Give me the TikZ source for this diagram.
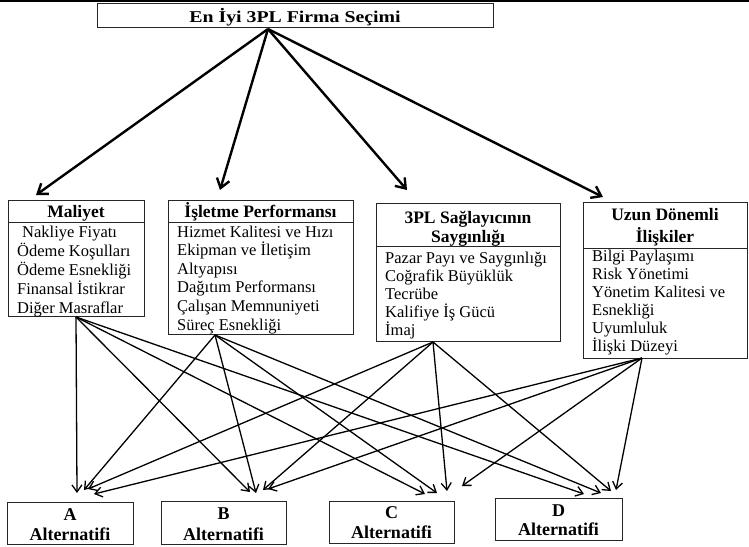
\documentclass[tikz,border=0pt]{standalone}
\usepackage{fontspec}
\setmainfont{Liberation Serif}
\usetikzlibrary{arrows.meta}
\begin{document}
\begin{tikzpicture}[x=1pt,y=-1pt,
  box/.style={draw=black!85, line width=0.9pt, inner sep=0pt, anchor=north west},
  ttl/.style={font=\fontsize{16.5}{18}\selectfont\bfseries, anchor=base, inner sep=0pt},
  hdr/.style={font=\fontsize{17.5}{20}\selectfont\bfseries, anchor=base, inner sep=0pt},
  item/.style={font=\fontsize{16.5}{19}\selectfont, anchor=base west, inner sep=0pt},
  alt/.style={font=\fontsize{18}{20}\selectfont\bfseries, anchor=base, inner sep=0pt},
  toparrow/.style={line width=2.4pt, -{Straight Barb[length=9pt,width=13pt]}},
  link/.style={line width=1.3pt, -{Straight Barb[length=7pt,width=10pt]}},
]
\useasboundingbox (0,0) rectangle (749,546);
\fill (0,0) rectangle (749,2);

% title
\node[box, minimum width=396pt, minimum height=24pt] (title) at (97,3) {};
\node[ttl] (titletext) at (295,22) {\scalebox{1.2}[1]{En İyi 3PL Firma Seçimi}};

% Maliyet
\node[box, minimum width=136pt, minimum height=22pt] (mH) at (8,200) {};
\node[box, minimum width=136pt, minimum height=94pt] (mB) at (8,222) {};
\node[hdr] (mT) at (76,217) {Maliyet};
\node[item] (m1) at (22,237) {Nakliye Fiyatı};
\node[item] (m2) at (17,256) {Ödeme Koşulları};
\node[item] (m3) at (17,275) {Ödeme Esnekliği};
\node[item] (m4) at (17,294) {Finansal İstikrar};
\node[item] (m5) at (17,313) {Diğer Masraflar};

% Isletme
\node[box, minimum width=185pt, minimum height=22pt] (iH) at (168,200) {};
\node[box, minimum width=185pt, minimum height=112pt] (iB) at (168,222) {};
\node[hdr] (iT) at (260.5,217) {İşletme Performansı};
\node[item] (i1) at (177,237) {Hizmet Kalitesi ve Hızı};
\node[item] (i2) at (177,255.6) {Ekipman ve İletişim};
\node[item] (i3) at (177,274.2) {Altyapısı};
\node[item] (i4) at (177,292.8) {Dağıtım Performansı};
\node[item] (i5) at (177,311.4) {Çalışan Memnuniyeti};
\node[item] (i6) at (177,330) {Süreç Esnekliği};

% 3PL
\node[box, minimum width=184pt, minimum height=43pt] (pH) at (376,203) {};
\node[box, minimum width=184pt, minimum height=95pt] (pB) at (376,246) {};
\node[hdr] (pT1) at (468,223) {3PL Sağlayıcının};
\node[hdr] (pT2) at (468,242) {Saygınlığı};
\node[item] (p1) at (385,263) {Pazar Payı ve Saygınlığı};
\node[item] (p2) at (385,281) {Coğrafik Büyüklük};
\node[item] (p3) at (385,299) {Tecrübe};
\node[item] (p4) at (385,317) {Kalifiye İş Gücü};
\node[item] (p5) at (385,335) {İmaj};

% Uzun
\node[box, minimum width=164pt, minimum height=46pt] (uH) at (583,202) {};
\node[box, minimum width=164pt, minimum height=110pt] (uB) at (583,248) {};
\node[hdr] (uT1) at (665,220) {Uzun Dönemli};
\node[hdr] (uT2) at (665,242) {İlişkiler};
\node[item] (u1) at (592,261) {Bilgi Paylaşımı};
\node[item] (u2) at (592,279) {Risk Yönetimi};
\node[item] (u3) at (592,297) {Yönetim Kalitesi ve};
\node[item] (u4) at (592,315) {Esnekliği};
\node[item] (u5) at (592,333) {Uyumluluk};
\node[item] (u6) at (592,351) {İlişki Düzeyi};

% alternatives
\node[box, minimum width=126pt, minimum height=42pt] (A) at (7,502) {};
\node[alt] at (70,520) {A};
\node[alt] at (70,540) {Alternatifi};
\node[box, minimum width=125pt, minimum height=43pt] (B) at (161,501) {};
\node[alt] at (223.5,519) {B};
\node[alt] at (223.5,540) {Alternatifi};
\node[box, minimum width=125pt, minimum height=42pt] (C) at (329,501) {};
\node[alt] at (391.5,518) {C};
\node[alt] at (391.5,538) {Alternatifi};
\node[box, minimum width=127pt, minimum height=42pt] (D) at (495,498) {};
\node[alt] at (558.5,516) {D};
\node[alt] at (558.5,535) {Alternatifi};

% top arrows
\coordinate (tS) at (268,29);
\coordinate (tM) at (36,195);
\coordinate (tI) at (220,190);
\coordinate (tP) at (407,190);
\coordinate (tU) at (603,197);
\foreach \t in {tM,tI,tP,tU} \draw[toparrow] (tS) -- (\t);

% sources
\coordinate (sM) at (76,317);
\coordinate (sI) at (215,335);
\coordinate (sP) at (433,342);
\coordinate (sU) at (642,358);
% tips
\coordinate (mA) at (77,493);  \coordinate (iA) at (84,490);  \coordinate (pA) at (88,489);  \coordinate (uA) at (94,494);
\coordinate (mB) at (250,492); \coordinate (iB) at (256,493); \coordinate (pB) at (263,490); \coordinate (uB) at (268,489);
\coordinate (mC) at (425,494); \coordinate (iC) at (437,493); \coordinate (pC) at (447,491); \coordinate (uC) at (462,486);
\coordinate (mD) at (584,494); \coordinate (iD) at (601,493); \coordinate (pD) at (611,491); \coordinate (uD) at (616,490);

\foreach \s/\k in {sM/m,sI/i,sP/p,sU/u}
  \foreach \a in {A,B,C,D}
    \draw[link] (\s) -- (\k\a);
\end{tikzpicture}
\end{document}
